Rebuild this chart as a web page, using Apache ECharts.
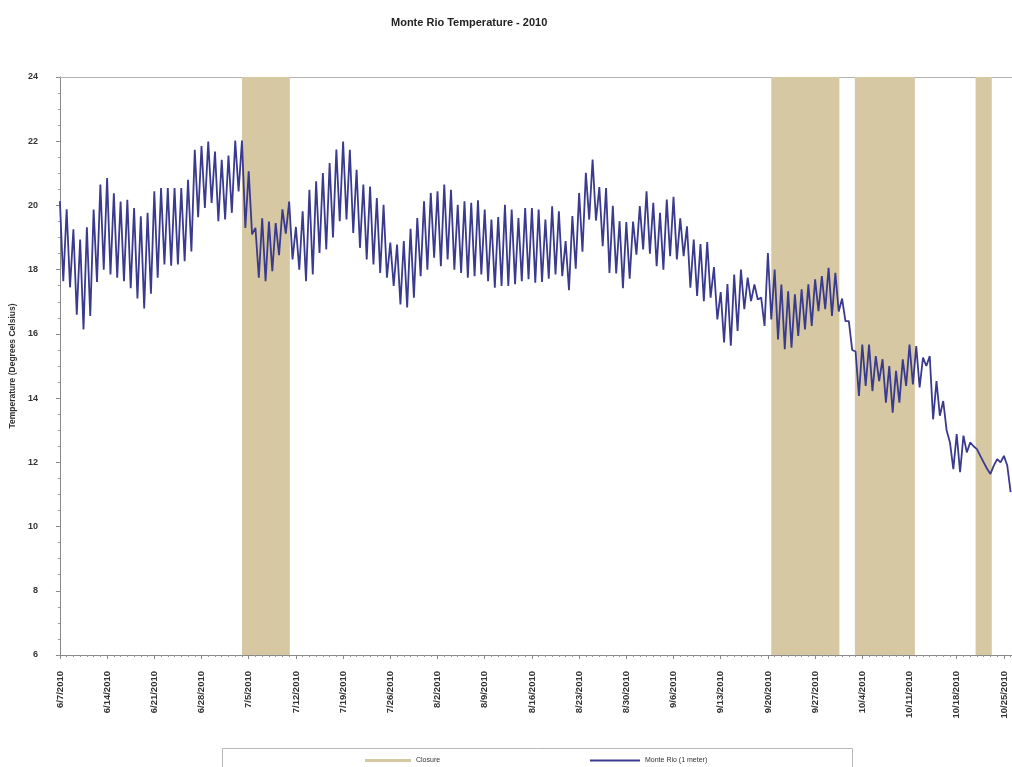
<!DOCTYPE html>
<html>
<head>
<meta charset="utf-8">
<script src="https://cdn.jsdelivr.net/npm/echarts@6/dist/echarts.min.js"></script>
<style>
  html, body { margin: 0; padding: 0; background: #ffffff; overflow: hidden; }
  #chart { width: 1012px; height: 767px; }
</style>
</head>
<body>
<div id="chart"></div>
<script>
// Day 0 of the record is 6/7/2010; x values are days since then.
const startDate = Date.UTC(2010, 5, 7);

// Daily high reading (day d) and the following low reading (day d + 0.5), deg C.
const highs = [
  20.13, 19.88, 19.26, 18.94, 19.32, 19.87, 20.65, 20.85, 20.38, 20.12,
  20.18, 19.92, 19.66, 19.77, 20.44, 20.54, 20.54, 20.54, 20.54, 20.80,
  21.73, 21.85, 21.99, 21.68, 21.42, 21.55, 22.02, 22.02, 21.06, 19.30,
  19.60, 19.50, 19.45, 19.88, 20.12, 19.33, 19.82, 20.49, 20.75, 21.01,
  21.32, 21.74, 21.99, 21.73, 21.11, 20.65, 20.59, 20.23, 20.02, 18.84,
  18.78, 18.89, 19.27, 19.61, 20.13, 20.39, 20.44, 20.65, 20.49, 20.02,
  20.13, 20.08, 20.16, 19.87, 19.56, 19.64, 20.02, 19.87, 19.61, 19.92,
  19.92, 19.87, 19.56, 19.97, 19.82, 18.89, 19.67, 20.39, 21.02, 21.43,
  20.57, 20.54, 19.99, 19.51, 19.48, 19.50, 19.98, 20.44, 20.08, 19.77,
  20.18, 20.27, 19.60, 19.35, 18.94, 18.80, 18.86, 18.08, 17.30, 17.55,
  17.85, 18.00, 17.75, 17.54, 17.13, 18.52, 18.00, 17.54, 17.33, 17.23,
  17.39, 17.54, 17.70, 17.80, 18.06, 17.90, 17.10, 16.40, 15.45, 15.67,
  15.67, 15.31, 15.21, 15.00, 14.85, 15.21, 15.67, 15.62, 15.26, 15.31,
  14.53, 13.91, 12.62, 12.88, 12.83, 12.62, 12.41, 12.00, 11.64, 12.10,
  12.20, 11.07
];
const lows = [
  17.64, 17.45, 16.60, 16.14, 16.56, 17.62, 18.00, 17.85, 17.75, 17.64,
  17.42, 17.10, 16.79, 17.25, 17.75, 18.16, 18.12, 18.16, 18.26, 18.57,
  19.63, 19.92, 20.08, 19.51, 19.56, 19.77, 20.44, 19.30, 19.10, 17.75,
  17.64, 17.95, 18.45, 19.12, 18.32, 18.00, 17.64, 17.85, 18.52, 18.63,
  19.00, 19.51, 19.56, 19.14, 18.68, 18.32, 18.16, 17.90, 17.75, 17.49,
  16.92, 16.82, 17.13, 17.80, 18.00, 18.37, 18.11, 18.32, 18.00, 17.90,
  17.75, 17.80, 17.85, 17.64, 17.44, 17.49, 17.49, 17.55, 17.64, 17.70,
  17.59, 17.62, 17.72, 17.85, 17.80, 17.36, 18.03, 18.56, 19.56, 19.53,
  18.73, 17.90, 17.88, 17.42, 17.72, 18.47, 18.63, 18.50, 18.11, 18.00,
  18.42, 18.32, 18.42, 17.44, 17.18, 17.02, 17.13, 16.45, 15.73, 15.63,
  16.09, 16.77, 17.02, 17.07, 16.25, 16.45, 15.83, 15.52, 15.57, 15.94,
  16.14, 16.25, 16.71, 16.77, 16.56, 16.70, 16.40, 15.50, 14.07, 14.38,
  14.22, 14.53, 13.86, 13.55, 13.86, 14.38, 14.43, 14.33, 15.00, 13.34,
  13.45, 13.00, 11.79, 11.69, 12.31, 12.50, 12.20, 11.80, 11.90, 12.00,
  11.90
];

// Closure periods, [start, end] in days since 6/7/2010.
const closureDays = [[27.0, 34.1], [105.5, 115.6], [117.9, 126.8], [135.8, 138.2]];

const seriesNames = ['Closure', 'Monte Rio (1 meter)'];

const tempData = [];
highs.forEach(function (h, d) {
  tempData.push([d, h]);
  if (d < lows.length) tempData.push([d + 0.5, lows[d]]);
});

function dayLabel(d) {
  if (d % 7 !== 0) return '';
  const dt = new Date(startDate + d * 86400000);
  return (dt.getUTCMonth() + 1) + '/' + dt.getUTCDate() + '/' + dt.getUTCFullYear();
}

const FONT = '"Liberation Sans", Arial, sans-serif';
const X_MIN = 0, X_MAX = 141.2;
const chart = echarts.init(document.getElementById('chart'), null, { renderer: 'canvas' });

chart.setOption({
  animation: false,
  backgroundColor: '#ffffff',
  title: {
    text: 'Monte Rio Temperature - 2010',
    left: 386,
    top: 12,
    textStyle: { fontFamily: FONT, fontSize: 11, fontWeight: 'bold', color: '#222' }
  },
  grid: {
    left: 59, right: 0, top: 77, bottom: 112, show: false
  },
  xAxis: [
    {
      type: 'value',
      min: X_MIN, max: X_MAX, interval: 7,
      axisLine: { show: true, lineStyle: { color: '#888', width: 1 } },
      axisTick: { show: true, length: 4, lineStyle: { color: '#888' } },
      minorTick: { show: true, splitNumber: 7, length: 2, lineStyle: { color: '#999' } },
      splitLine: { show: false },
      axisLabel: {
        rotate: 90, margin: 16, formatter: dayLabel, showMaxLabel: false,
        fontFamily: FONT, fontSize: 9.5, fontWeight: 'bold', color: '#333'
      }
    },
    {
      // plain frame line along the top of the plot
      type: 'value', position: 'top',
      min: X_MIN, max: X_MAX, interval: 7,
      axisLine: { show: true, lineStyle: { color: '#b0b0b0', width: 1 } },
      axisTick: { show: false }, axisLabel: { show: false }, splitLine: { show: false }
    }
  ],
  yAxis: {
    type: 'value',
    min: 6, max: 24, interval: 2,
    name: 'Temperature (Degrees Celsius)',
    nameLocation: 'middle', nameGap: 39, nameRotate: 90,
    nameTextStyle: { fontFamily: FONT, fontSize: 8.5, fontWeight: 'bold', color: '#333' },
    axisLine: { show: true, lineStyle: { color: '#888', width: 1 } },
    axisTick: { show: true, length: 4, lineStyle: { color: '#888' } },
    minorTick: { show: true, splitNumber: 4, length: 2, lineStyle: { color: '#999' } },
    splitLine: { show: false },
    axisLabel: { margin: 22, fontFamily: FONT, fontSize: 9, fontWeight: 'bold', color: '#333' }
  },
  legend: [
    {
      data: [seriesNames[0]], left: 365, top: 757, padding: 0,
      icon: 'rect', itemWidth: 46, itemHeight: 3, itemGap: 0,
      textStyle: { fontFamily: FONT, fontSize: 7, color: '#333' }
    },
    {
      data: [seriesNames[1]], left: 590, top: 757, padding: 0,
      icon: 'rect', itemWidth: 50, itemHeight: 2, itemGap: 0,
      textStyle: { fontFamily: FONT, fontSize: 7, color: '#333' }
    }
  ],
  graphic: [{
    type: 'rect', silent: true,
    shape: { x: 222.5, y: 748.5, width: 630, height: 40 },
    style: { fill: 'none', stroke: '#b8b8b8', lineWidth: 1 }
  }],
  series: [
    {
      name: seriesNames[0],
      type: 'line',
      data: [],
      itemStyle: { color: '#d6c8a2' },
      lineStyle: { color: '#d6c8a2' }
    },
    {
      name: seriesNames[1],
      type: 'line',
      data: tempData,
      showSymbol: false,
      symbol: 'none',
      itemStyle: { color: '#3a3a8e' },
      lineStyle: { color: '#3a3a8e', width: 1.8 },
      markArea: {
        silent: true,
        itemStyle: { color: '#d6c8a2' },
        data: closureDays.map(function (c) { return [{ xAxis: c[0] }, { xAxis: c[1] }]; })
      }
    }
  ]
});
</script>
</body>
</html>
